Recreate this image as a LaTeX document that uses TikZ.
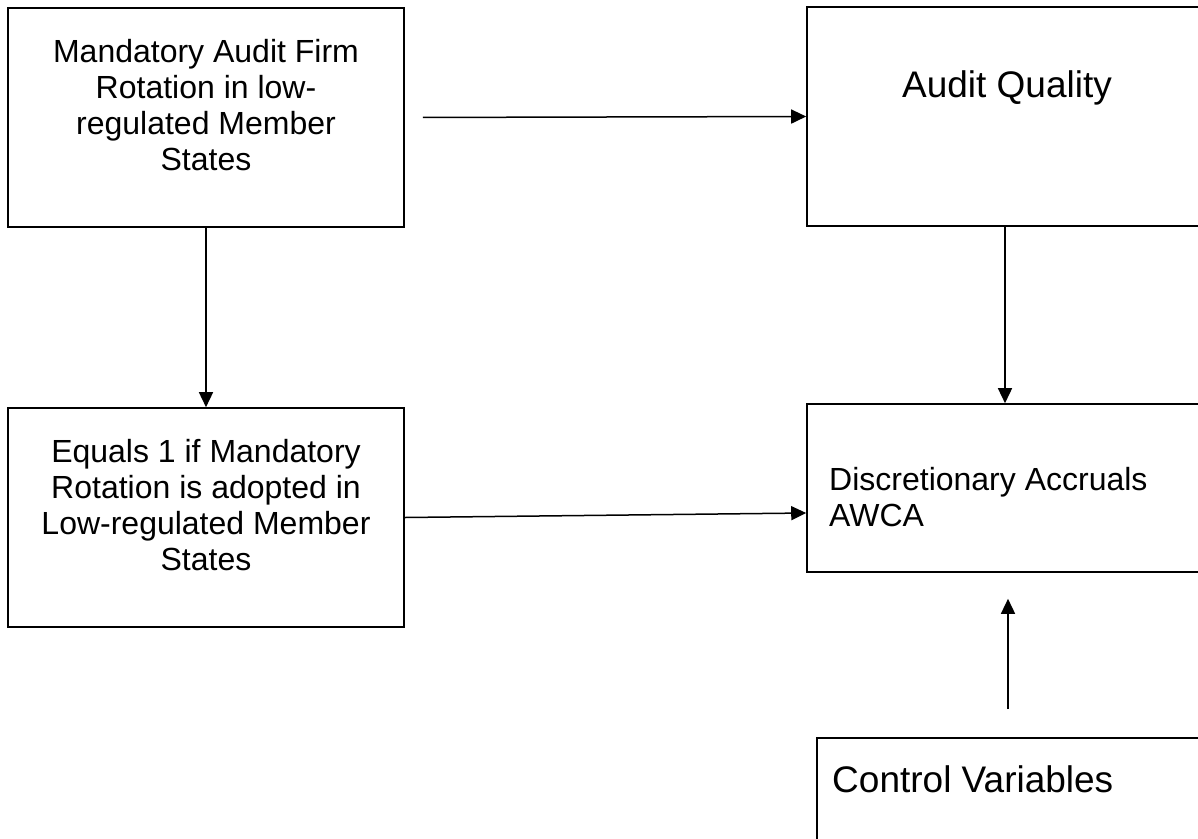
\documentclass[tikz,border=0pt]{standalone}
\usepackage{fontspec}
\setmainfont{Liberation Sans}
\usepackage{tikz}
\usetikzlibrary{arrows.meta}

\newcommand{\bodyfnt}{\fontsize{32}{36}\selectfont}
\newcommand{\titlefnt}{\fontsize{37}{42}\selectfont}

\tikzset{
    blk/.style={draw, line width=1.6pt, inner sep=0pt, minimum width=396pt, minimum height=219pt},
    txt/.style={inner sep=0pt, font=\bodyfnt},
    link/.style={line width=1.5pt, -{Triangle[length=15pt,width=14pt]}}
}

\begin{document}
\begin{tikzpicture}[x=1pt, y=-1pt]
    \useasboundingbox (0,0) rectangle (1198,838);
    \clip (0,0) rectangle (1198,838);

    % Blocks
    \node[blk] (rot) at (206,117.5) {}; \node[txt, align=center] (rotTxt) at (206,105.5) {Mandatory Audit Firm\\Rotation in low-\\regulated Member\\States};
    \node[blk] (aq) at (1005,116.5) {}; \node[txt, font=\titlefnt] (aqTxt) at (1007,88) {Audit Quality};
    \node[blk] (dummy) at (206,517.5) {}; \node[txt, align=center] (dummyTxt) at (206,505.5) {Equals 1 if Mandatory\\Rotation is adopted in\\Low-regulated Member\\States};
    \node[blk, minimum height=168pt] (dac) at (1005,488) {}; \node[txt, align=left, anchor=west] (dacTxt) at (829,497.5) {Discretionary Accruals\\AWCA};
    \node[blk, minimum width=400pt, minimum height=200pt] (ctrl) at (1017,838) {}; \node[txt, font=\titlefnt, anchor=west] (ctrlTxt) at (832,779) {Control Variables};

    % Links
    \draw[link, shorten <=18pt] (rot.east) -- (aq.west);
    \draw[link] (rot.south) -- (dummy.north);
    \draw[link] (aq.south) -- (dac.north);
    \draw[link] (dummy.east) -- ([yshift=-25pt]dac.west);
    \draw[link, shorten <=28pt, shorten >=26pt] ([xshift=-9pt]ctrl.north) -- ([xshift=-9pt]ctrl.north |- dac.south);
\end{tikzpicture}
\end{document}
